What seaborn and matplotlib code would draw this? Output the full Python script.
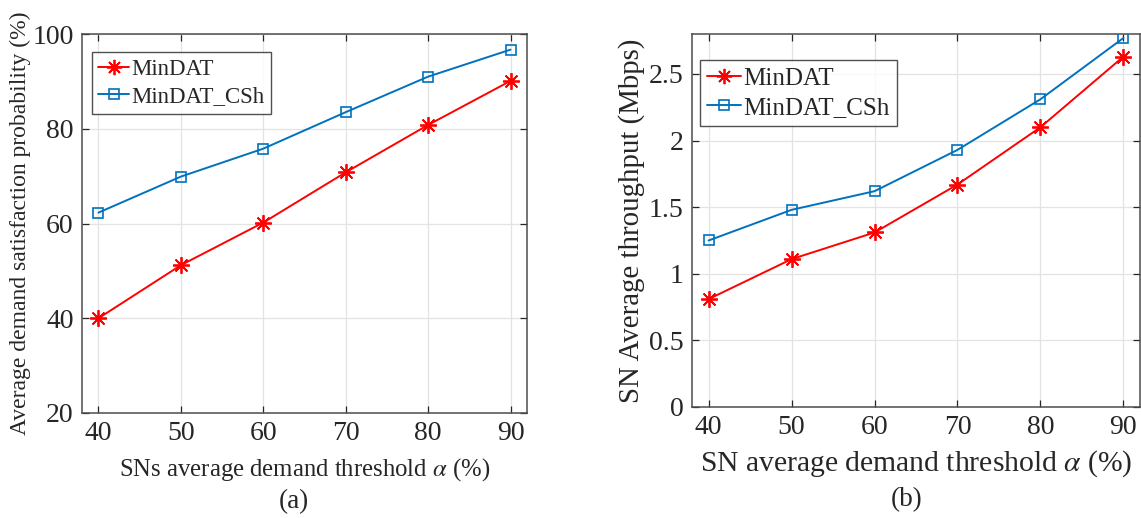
import numpy as np
import pandas as pd
import matplotlib
matplotlib.use("Agg")
import matplotlib.pyplot as plt
from matplotlib.lines import Line2D
import seaborn as sns

# Demand thresholds (%)
alpha = [40, 50, 60, 70, 80, 90]

# (a) average demand satisfaction probability (%)
sat_mindat = [40.0, 51.2, 60.2, 70.8, 80.8, 90.1]
sat_csh = [62.3, 69.9, 75.8, 83.5, 91.0, 96.7]

# (b) SN average throughput (Mbps)
thr_mindat = [0.81, 1.11, 1.31, 1.67, 2.10, 2.63]
thr_csh = [1.25, 1.48, 1.62, 1.93, 2.31, 2.77]

series_names = ["MinDAT", "MinDAT_CSh"]

sns.set_theme(style="white")
plt.rcParams["font.family"] = ["Liberation Serif", "DejaVu Serif"]
plt.rcParams["mathtext.fontset"] = "stix"

W, H = 1141, 518
fig = plt.figure(figsize=(W / 100, H / 100), dpi=100)


def box(l, t, r, b):
    return [l / W, 1 - b / H, (r - l) / W, (b - t) / H]


ax1 = fig.add_axes(box(82, 34, 527, 413))
ax2 = fig.add_axes(box(692, 34, 1140, 407))

RED = "#FF0000"
BLUE = "#0072BD"
STAR = (8, 2, 0)


def draw(ax, a, b):
    df = pd.DataFrame({"alpha": alpha, "a": a, "b": b})
    sns.lineplot(data=df, x="alpha", y="b", ax=ax, color=BLUE, linewidth=1.4,
                 marker="s", markersize=7, markerfacecolor="none",
                 markeredgecolor=BLUE, markeredgewidth=1.2, zorder=3)
    sns.lineplot(data=df, x="alpha", y="a", ax=ax, color=RED, linewidth=1.4,
                 marker=STAR, markersize=12, markeredgecolor=RED,
                 markeredgewidth=1.3, zorder=4)


draw(ax1, sat_mindat, sat_csh)
draw(ax2, thr_mindat, thr_csh)

spine_col = "#262626"
for ax in (ax1, ax2):
    ax.set_xlim(38, 92)
    ax.set_xticks(alpha)
    ax.grid(True, color="#e3e3e3", linewidth=0.9, zorder=0)
    ax.set_axisbelow(True)
    for s in ax.spines.values():
        s.set_color("#4d4d4d")
        s.set_linewidth(1.1)
        s.set_visible(True)
    ax.tick_params(direction="in", length=5, width=0.9, color=spine_col,
                   top=True, right=True, bottom=True, left=True,
                   labelcolor=spine_col, labelsize=20, pad=6)

ax1.set_ylim(20, 100)
ax1.set_yticks([20, 40, 60, 80, 100])
ax1.set_xlabel(r"SNs average demand threshold $\alpha$ (%)", fontsize=17.8,
               color=spine_col, labelpad=7)
ax1.set_ylabel("Average demand satisfaction probability (%)", fontsize=17,
               color=spine_col, labelpad=1)

ax2.set_ylim(0, 2.8)
ax2.set_yticks([0, 0.5, 1, 1.5, 2, 2.5])
ax2.set_yticklabels(["0", "0.5", "1", "1.5", "2", "2.5"])
ax2.set_xlabel(r"SN average demand threshold $\alpha$ (%)", fontsize=21.3,
               color=spine_col, labelpad=6)
ax2.set_ylabel("SN Average throughput (Mbps)", fontsize=20.8,
               color=spine_col, labelpad=3)


def legend_handles(size):
    return [
        Line2D([], [], color=RED, linewidth=1.4, marker=STAR, markersize=size,
               markeredgewidth=1.3),
        Line2D([], [], color=BLUE, linewidth=1.4, marker="s",
               markersize=size * 0.6, markerfacecolor="none",
               markeredgewidth=1.2),
    ]


for ax, loc, fs in ((ax1, (0.022, 0.952), 16.5), (ax2, (0.018, 0.93), 18)):
    leg = ax.legend(legend_handles(11), series_names, loc="upper left",
                    bbox_to_anchor=loc, fontsize=fs, frameon=True,
                    fancybox=False, handlelength=1.35, handletextpad=0.1,
                    borderpad=0.28, labelspacing=0.28, borderaxespad=0)
    leg.get_frame().set_edgecolor("#262626")
    leg.get_frame().set_linewidth(1.0)

fig.text(294 / W, 1 - 502 / H, "(a)", ha="center", va="center", fontsize=19.5,
         color=spine_col)
fig.text(907 / W, 1 - 500 / H, "(b)", ha="center", va="center", fontsize=19.5,
         color=spine_col)

fig.savefig("out.png", dpi=100)
